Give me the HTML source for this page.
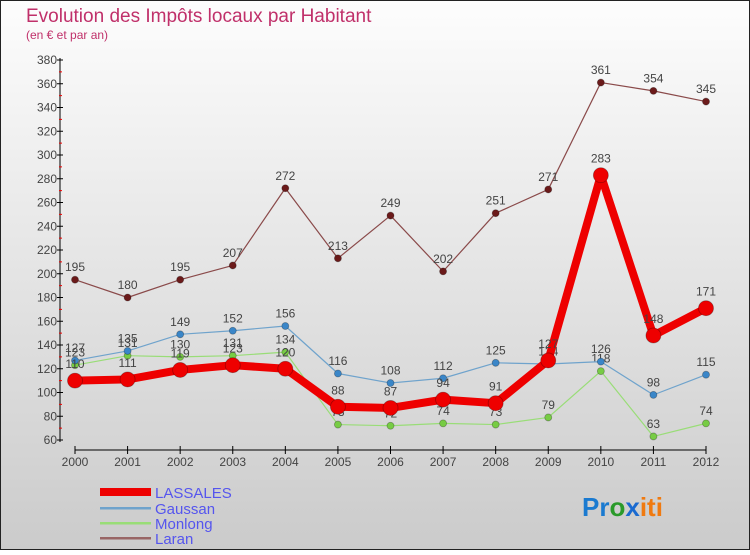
<!DOCTYPE html>
<html><head><meta charset="utf-8"><style>
body{margin:0;width:750px;height:550px;overflow:hidden;font-family:"Liberation Sans",sans-serif}
</style></head><body>
<svg id="c" width="750" height="550" xmlns="http://www.w3.org/2000/svg">
<defs><linearGradient id="bg" x1="0" y1="0" x2="0" y2="1"><stop offset="0" stop-color="#fdfdfd"/><stop offset="1" stop-color="#cbcbcb"/></linearGradient></defs>
<rect x="0.5" y="0.5" width="749" height="549" fill="url(#bg)" stroke="#222"/>
<text x="26" y="22" font-size="19" fill="#c0306a">Evolution des Impôts locaux par Habitant</text>
<text x="26" y="39" font-size="12" fill="#c0306a">(en € et par an)</text>
<g id="axes"></g><g id="series"></g>
<g font-size="15" fill="#5555ee">
<rect x="100" y="488" width="51" height="8" fill="#e00"/>
<text x="155" y="498">LASSALES</text>
<rect x="100" y="507" width="51" height="2.5" fill="#6fa3cc"/>
<text x="155" y="514">Gaussan</text>
<rect x="100" y="522" width="51" height="2.5" fill="#99dd77"/>
<text x="155" y="529">Monlong</text>
<rect x="100" y="537" width="51" height="2.5" fill="#996666"/>
<text x="155" y="544">Laran</text>
</g>
<text x="582" y="516" font-size="26" font-weight="bold"><tspan fill="#1a7ad0">Pr</tspan><tspan fill="#2a9a2a">o</tspan><tspan fill="#1a6ad0">x</tspan><tspan fill="#f07a10">iti</tspan></text>
</svg>
<script>
const years=["2000","2001","2002","2003","2004","2005","2006","2007","2008","2009","2010","2011","2012"];
const yTicks=[60,80,100,120,140,160,180,200,220,240,260,280,300,320,340,360,380];
const lassales=[110,111,119,123,120,88,87,94,91,127,283,148,171];
const gaussan=[127,135,149,152,156,116,108,112,125,124,126,98,115];
const monlong=[123,131,130,131,134,73,72,74,73,79,118,63,74];
const laran=[195,180,195,207,272,213,249,202,251,271,361,354,345];
const NS="http://www.w3.org/2000/svg";
const x=i=>75+i*(706-75)/(years.length-1);
const y=v=>440-(v-60)*(380/320);
function mk(t,a,p){const e=document.createElementNS(NS,t);for(const k in a)e.setAttribute(k,a[k]);p.appendChild(e);return e;}
const ax=document.getElementById('axes');
let yl=mk('line',{x1:60,y1:58,x2:60,y2:442,stroke:'#000'},ax);


yTicks.forEach((v,i)=>{
  mk('line',{x1:57,y1:y(v),x2:63,y2:y(v),stroke:'#000'},ax);
  if(i<yTicks.length-1){const m=mk('line',{x1:59,y1:y(v+10),x2:62,y2:y(v+10),stroke:'#e00'},ax);}
  const t=mk('text',{x:57,y:y(v)+4,'text-anchor':'end','font-size':12,fill:'#444'},ax);
  
  
  t.textContent=v;
});
let xl=mk('line',{x1:75,y1:450,x2:706,y2:450,stroke:'#000'},ax);


years.forEach((yr,i)=>{
  mk('line',{x1:x(i),y1:446,x2:x(i),y2:454,stroke:'#000'},ax);
  const t=mk('text',{x:x(i),y:466,'text-anchor':'middle','font-size':12,fill:'#444'},ax);
  
  
  t.textContent=yr;
});
const sg=document.getElementById('series');
function draw(name,data,color,w,r,dot){
  const g=mk('g',{},sg);
  
  
  const p=mk('polyline',{points:data.map((v,i)=>x(i)+','+y(v)).join(' '),fill:'none',stroke:color,'stroke-width':w,'stroke-linejoin':'round'},g);
  
  
  data.forEach((v,i)=>{
    const c=mk('circle',{cx:x(i),cy:y(v),r:r,fill:dot,stroke:'rgba(0,0,0,0.3)','stroke-width':0.8},g);
    
    
    const t=mk('text',{x:x(i),y:y(v)-r-5,'text-anchor':'middle','font-size':12,fill:'#444'},g);
    
    
    t.textContent=v;
  });
}
draw('laran',laran,'#8a4a4a',1.2,3.5,'#6b1a1a');
draw('monlong',monlong,'#99dd77',1.2,3.5,'#77cc44');
draw('gaussan',gaussan,'#6fa3cc',1.2,3.5,'#3a86c8');
draw('lassales',lassales,'#e00',8,7.5,'#e00');
</script>
</body></html>
